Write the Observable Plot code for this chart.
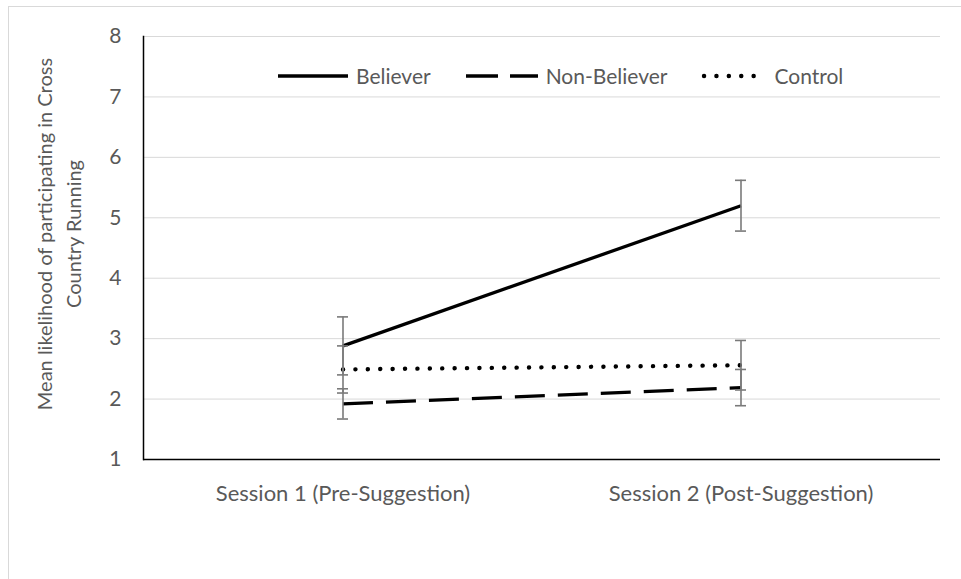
<!DOCTYPE html>
<html>
<head>
<meta charset="utf-8">
<script src="https://cdn.jsdelivr.net/npm/d3@7"></script>
<script src="https://cdn.jsdelivr.net/npm/@observablehq/plot@0.6"></script>
<style>
  body { margin: 0; background: #fff; overflow: hidden; font-family: Lato, "Noto Sans", sans-serif; }
  #wrap { position: relative; width: 961px; height: 579px; }
  #border { position: absolute; left: 8px; top: 6px; width: 990px; height: 620px; border: 1px solid #d9d9d9; box-sizing: border-box; pointer-events: none; }
  #chart { position: absolute; left: 0; top: 0; }
  #legend { position: absolute; left: 278px; top: 63px; display: flex; align-items: center; color: #595959; font-size: 21px; }
  #legend .item { display: flex; align-items: center; margin-right: 35px; }
  #legend svg { margin-right: 8px; overflow: visible; }
</style>
</head>
<body>
<div id="wrap">
  <div id="border"></div>
  <div id="chart"></div>
  <div id="legend"></div>
</div>
<script>
// Categories and groups
const sessions = ["Session 1 (Pre-Suggestion)", "Session 2 (Post-Suggestion)"];
const groups = ["Believer", "Non-Believer", "Control"];

// Means per session
const believerMean = [2.88, 5.20];
const nonBelieverMean = [1.92, 2.19];
const controlMean = [2.49, 2.56];

// Error bar half-widths per session
const believerErr = [0.48, 0.42];
const nonBelieverErr = [0.25, 0.30];
const controlErr = [0.39, 0.41];

// Y axis ticks
const yTicks = [1, 2, 3, 4, 5, 6, 7, 8];

const yLabel = "Mean likelihood of participating in Cross\nCountry Running";

// Line style for each group
const styles = {
  "Believer": {strokeDasharray: null, strokeLinecap: "butt", strokeWidth: 3.3},
  "Non-Believer": {strokeDasharray: "30,13", strokeLinecap: "butt", strokeWidth: 3.3},
  "Control": {strokeDasharray: "0.1,12.3", strokeLinecap: "round", strokeWidth: 4.4}
};

const means = [believerMean, nonBelieverMean, controlMean];
const errs = [believerErr, nonBelieverErr, controlErr];
const rows = groups.flatMap((g, gi) =>
  sessions.map((s, si) => ({group: g, session: s, mean: means[gi][si], err: errs[gi][si]}))
);

const gray = "#595959";

const chart = Plot.plot({
  width: 961,
  height: 579,
  marginLeft: 143,
  marginRight: 21,
  marginTop: 36,
  marginBottom: 120,
  style: {fontFamily: "Lato, 'Noto Sans', sans-serif", color: gray, background: "transparent"},
  x: {type: "band", domain: sessions, paddingInner: 0.9724, paddingOuter: 0.4862, align: 0.5},
  y: {domain: [1, 8]},
  marks: [
    Plot.gridY(yTicks.slice(1), {stroke: "#d9d9d9", strokeOpacity: 1, strokeWidth: 1}),
    Plot.axisY(yTicks, {tickSize: 0, tickPadding: 22, fontSize: 21, fill: gray, label: null, tickFormat: d3.format("d")}),
    Plot.axisX({tickSize: 0, tickPadding: 26, fontSize: 22, fill: gray, label: null}),
    Plot.text([yLabel], {
      frameAnchor: "left", rotate: -90, dx: -86, dy: -14,
      fontSize: 20, fill: gray, lineHeight: 1.42, textAnchor: "middle"
    }),
    ...groups.map(g => Plot.line(rows.filter(d => d.group === g), {
      x: "session", y: "mean", stroke: "black", ...styles[g]
    })),
    Plot.ruleX(rows, {x: "session", y1: d => d.mean - d.err, y2: d => d.mean + d.err, stroke: "#7a7a7a", strokeWidth: 1.6}),
    Plot.tickY(rows, {x: "session", y: d => d.mean + d.err, stroke: "#7a7a7a", strokeWidth: 1.6}),
    Plot.tickY(rows, {x: "session", y: d => d.mean - d.err, stroke: "#7a7a7a", strokeWidth: 1.6}),
    Plot.ruleY([yTicks[0]], {stroke: "black", strokeWidth: 1.5}),
    Plot.frame({anchor: "left", stroke: "black", strokeWidth: 1.5})
  ]
});
document.getElementById("chart").appendChild(chart);

// Legend: line samples beside group names
const legend = d3.select("#legend");
const sampleWidths = {"Believer": 70, "Non-Believer": 72, "Control": 64};
groups.forEach(g => {
  const item = legend.append("div").attr("class", "item");
  const w = sampleWidths[g];
  const svg = item.append("svg").attr("width", w).attr("height", 10);
  const st = styles[g];
  svg.append("line")
    .attr("x1", g === "Control" ? 2 : 0).attr("x2", w).attr("y1", 5).attr("y2", 5)
    .attr("stroke", "black")
    .attr("stroke-width", st.strokeWidth)
    .attr("stroke-linecap", st.strokeLinecap)
    .attr("stroke-dasharray", g === "Non-Believer" ? "32,12" : st.strokeDasharray);
  item.append("span").text(g);
});
</script>
</body>
</html>
